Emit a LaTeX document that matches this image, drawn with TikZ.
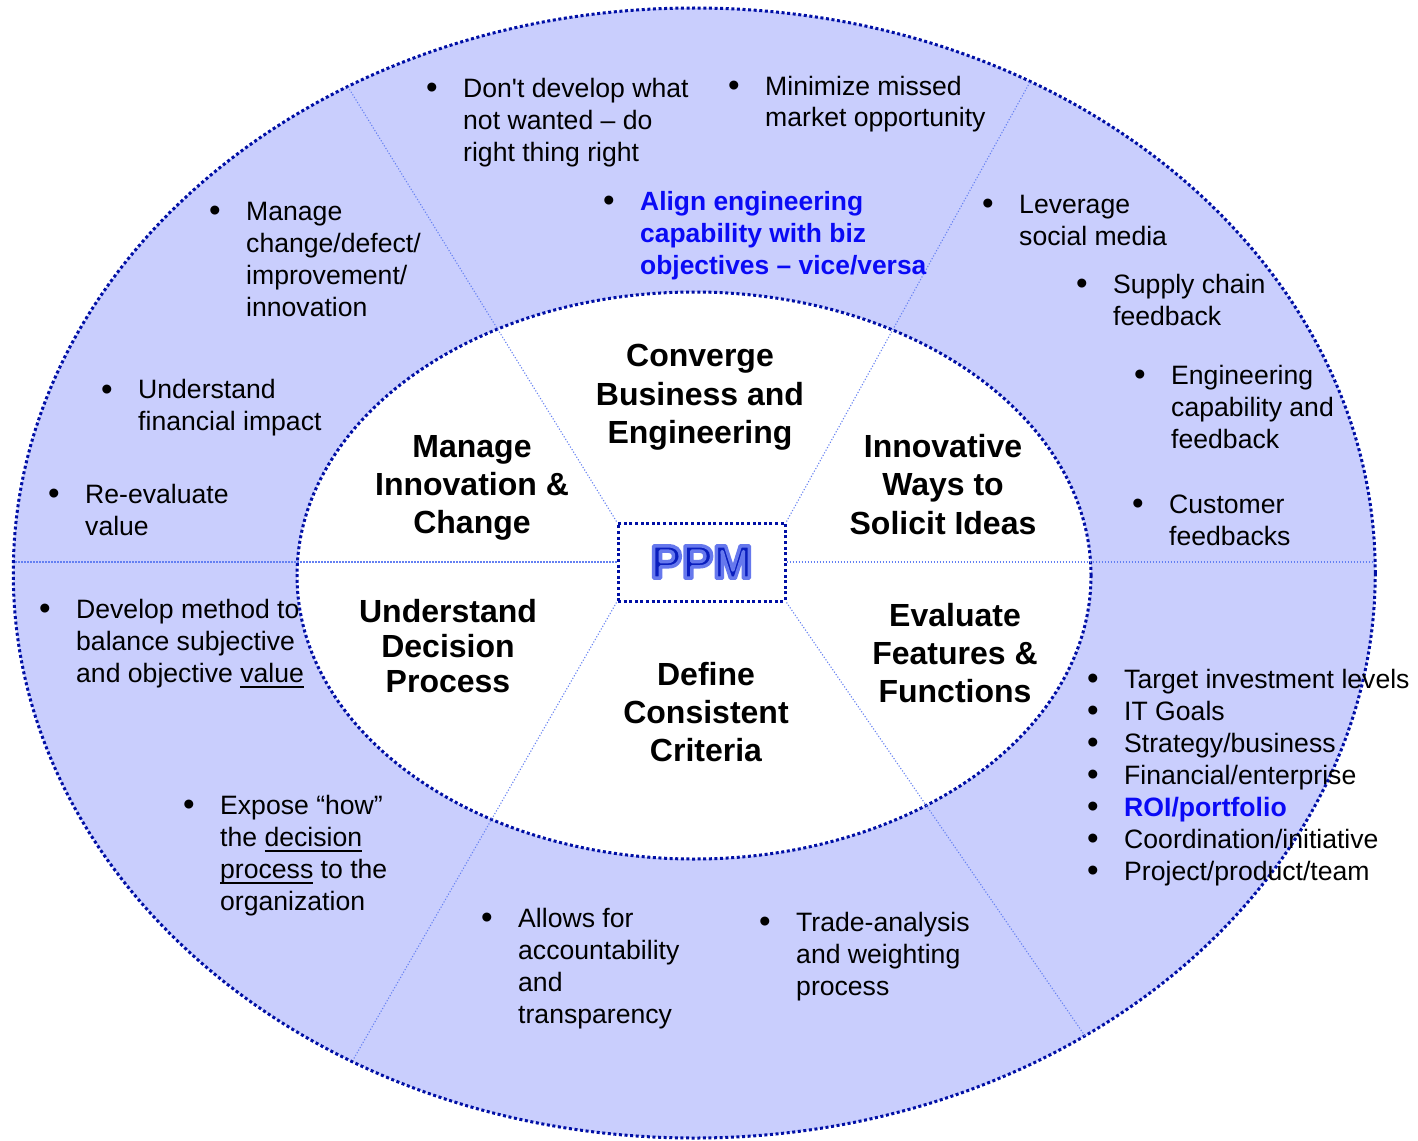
\documentclass[tikz,border=0pt]{standalone}
\usepackage{fontspec}
\setmainfont{Liberation Sans}
\usetikzlibrary{shapes.geometric}
\definecolor{ringfill}{RGB}{201,206,253}
\definecolor{rim}{RGB}{0,15,165}
\definecolor{spoke}{RGB}{100,128,242}
\definecolor{hiblue}{RGB}{10,10,245}
\definecolor{ppmcore}{RGB}{10,30,190}
\newsavebox\ulbox
\newcommand\myul[1]{\sbox\ulbox{#1}\rlap{\rule[-5.5pt]{\wd\ulbox}{1.8pt}}\usebox\ulbox}
\newcommand\lines[1]{\vtop{\baselineskip=32pt\lineskip=0pt\lineskiplimit=-100pt\halign{##\hfil\cr#1\crcr}}}
\newcommand\clines[2]{\vtop{\baselineskip=#1\lineskip=0pt\lineskiplimit=-100pt\halign{\hfil##\hfil\cr#2\crcr}}}
\tikzset{
  rimline/.style={draw=rim, line width=3pt, dash pattern=on 3pt off 2.6pt},
  spokeline/.style={draw=spoke, line width=1.1pt, dash pattern=on 1.1pt off 1.9pt},
  body/.style={inner sep=0pt, anchor=base west, font=\fontsize{26.6}{32}\selectfont},
  bul/.style={inner sep=0pt, anchor=base, font=\fontsize{33}{32}\selectfont},
  ttl/.style={inner sep=0pt, anchor=base, font=\bfseries\fontsize{32}{38}\selectfont},
  ppmbox/.style={rectangle, fill=white, rimline, minimum width=167pt, minimum height=78pt, inner sep=0pt},
}
\newcommand\bitem[4]{\node[bul] (#1b) at ({#2-31},{#3+1.5}) {•};\node[body] (#1) at (#2,#3) {\lines{#4}};}
\begin{document}
\begin{tikzpicture}[x=1pt,y=-1pt]
\useasboundingbox (0,0) rectangle (1418,1140);
% rings
\node[ellipse, minimum width=1362pt, minimum height=1130pt, inner sep=0pt, fill=ringfill, rimline] (outer) at (694.25,573) {};
\node[ellipse, minimum width=794pt, minimum height=567pt, inner sep=0pt, fill=white, rimline] (inner) at (694,575.5) {};
% centre box
\node[ppmbox] (ppm) at (701.5,562) {\fontsize{47}{47}\selectfont\bfseries\color{ppmcore}\special{pdf:literal direct 2 Tr 1 j 3.5 w 0.40 0.47 0.93 RG}PPM\special{pdf:literal direct 0 Tr}};
% spokes
\coordinate (eTL) at (348,87);
\coordinate (eTR) at (1030,82);
\coordinate (eBL) at (353,1060);
\coordinate (eBR) at (1085,1036);
\coordinate (eL) at (14,562);
\coordinate (eR) at (1374,562);
\draw[spokeline] (ppm.north west) -- (eTL);
\draw[spokeline] (ppm.north east) -- (eTR);
\draw[spokeline] (ppm.south west) -- (eBL);
\draw[spokeline] (ppm.south east) -- (eBR);
\draw[spokeline] (ppm.west) -- (eL);
\draw[spokeline] (ppm.east) -- (eR);
% sector titles
\node[ttl] (conv) at (700,366.5) {\clines{38.5pt}{Converge\cr Business and\cr Engineering}};
\node[ttl] (innov) at (943,457) {\clines{38.5pt}{Innovative\cr Ways to\cr Solicit Ideas}};
\node[ttl] (manage) at (472,457) {\clines{38pt}{Manage\cr Innovation \&\cr Change}};
\node[ttl] (under) at (448,622.5) {\clines{35pt}{Understand\cr Decision\cr Process}};
\node[ttl] (evalf) at (955,626) {\clines{38pt}{Evaluate\cr Features \&\cr Functions}};
\node[ttl] (define) at (706,685) {\clines{38pt}{Define\cr Consistent\cr Criteria}};
% outer ring bullets
\bitem{dont}{463}{97}{Don\textquotesingle t develop what\cr not wanted – do\cr right thing right}
\bitem{minim}{765}{95}{Minimize missed\cr market opportunity}
\node[bul] (alignb) at (609,211.5) {•};
\node[body, text=hiblue, font=\bfseries\fontsize{26.4}{32}\selectfont] (align) at (640,210) {\lines{Align engineering\cr capability with biz\cr objectives – vice/versa}};
\bitem{mchange}{246}{220}{Manage\cr change/defect/\cr improvement/\cr innovation}
\bitem{finimp}{138}{398.5}{Understand\cr financial impact}
\bitem{reeval}{85}{503}{Re-evaluate\cr value}
\bitem{develop}{76}{618}{Develop method to\cr balance subjective\cr and objective \myul{value}}
\bitem{expose}{220}{814}{Expose “how”\cr the \myul{decision}\cr \myul{process} to the\cr organization}
\bitem{allows}{518}{927}{Allows for\cr accountability\cr and\cr transparency}
\bitem{trade}{796}{931}{Trade-analysis\cr and weighting\cr process}
\bitem{lever}{1019}{213}{Leverage\cr social media}
\bitem{supply}{1113}{293}{Supply chain\cr feedback}
\bitem{engcap}{1171}{384}{Engineering\cr capability and\cr feedback}
\bitem{cust}{1169}{513}{Customer\cr feedbacks}
\node[body] (invest) at (1124,688) {\lines{Target investment levels\cr IT Goals\cr Strategy/business\cr Financial/enterprise\cr {\color{hiblue}\bfseries ROI/portfolio}\cr Coordination/initiative\cr Project/product/team}};
\foreach \i in {0,...,6} {\node[bul] (investb\i) at (1093,{689.5+32*\i}) {•};}
\end{tikzpicture}
\end{document}
